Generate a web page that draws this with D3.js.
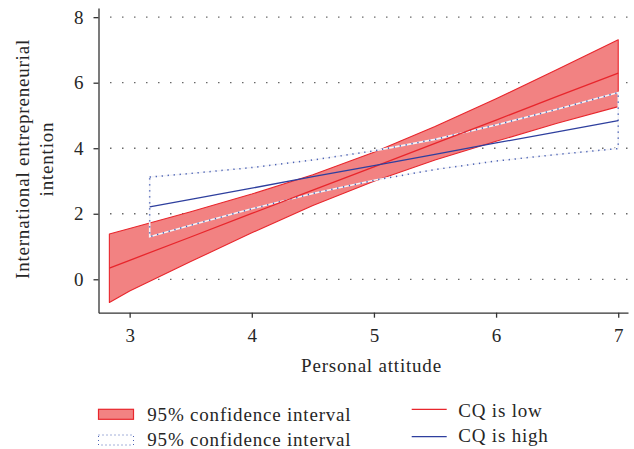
<!DOCTYPE html>
<html>
<head>
<meta charset="utf-8">
<script src="https://cdn.jsdelivr.net/npm/d3@7"></script>
<style>
  body { margin: 0; background: #fff; }
  svg { display: block; }
  text { font-family: "Liberation Serif", "Times New Roman", serif; fill: #262626; }
</style>
</head>
<body>
<svg id="chart" width="634" height="449"></svg>
<script>
// ---- Data ----
const xTicks = [3, 4, 5, 6, 7];
const yTicks = [0, 2, 4, 6, 8];

// CQ is low (red)
const redX     = [2.834, 3.0, 3.5, 4.0, 4.5, 5.0, 5.5, 6.0, 6.5, 7.0];
const redFit   = [0.34, 0.58, 1.29, 2.01, 2.72, 3.43, 4.15, 4.86, 5.58, 6.29];
const redUpper = [1.38, 1.55, 2.06, 2.60, 3.19, 3.88, 4.66, 5.51, 6.40, 7.31];
const redLower = [-0.71, -0.36, 0.54, 1.42, 2.25, 2.99, 3.64, 4.21, 4.76, 5.27];

// CQ is high (blue)
const blueX     = [3.164, 3.5, 4.0, 4.5, 5.0, 5.5, 6.0, 6.5, 7.0];
const blueFit   = [2.21, 2.44, 2.78, 3.13, 3.47, 3.81, 4.16, 4.50, 4.84];
const blueUpper = [3.12, 3.23, 3.41, 3.64, 3.92, 4.27, 4.71, 5.19, 5.70];
const blueLower = [1.30, 1.65, 2.15, 2.62, 3.02, 3.35, 3.61, 3.81, 3.99];

const xTitle = "Personal attitude";
const yTitle = ["International entrepreneurial", "intention"];
const legendCI = ["95% confidence interval", "95% confidence interval"];
const legendLines = ["CQ is low", "CQ is high"];

// ---- Styles ----
const RED = "#e8262c", RED_FILL = "#f28282", BLUE = "#2e3f9e", BLUE_DOT = "#4a62b4";
const FS = 19, LS = 0.8, TXT = "#262626";

const svg = d3.select("#chart");
const x = d3.scaleLinear().domain([2.745, 7.08]).range([98.5, 628]);
const y = d3.scaleLinear().domain([-1.02, 8.28]).range([312.7, 8]);

// grid
svg.append("g").selectAll("line").data(yTicks).join("line")
  .attr("x1", 110.2).attr("x2", 628)
  .attr("y1", d => y(d)).attr("y2", d => y(d))
  .attr("stroke", "#444").attr("stroke-width", 1.3)
  .attr("stroke-dasharray", "1.2,10.8");

const redData = redX.map((v, i) => ({x: v, fit: redFit[i], hi: redUpper[i], lo: redLower[i]}));
const blueData = blueX.map((v, i) => ({x: v, fit: blueFit[i], hi: blueUpper[i], lo: blueLower[i]}));

function bandPath(data) {
  const pts = data.map(d => [x(d.x), y(d.hi)])
    .concat(data.slice().reverse().map(d => [x(d.x), y(d.lo)]));
  return d3.line()(pts) + "Z";
}

// red CI
svg.append("path").attr("d", bandPath(redData))
  .attr("fill", RED_FILL).attr("stroke", RED).attr("stroke-width", 1.1)
  .attr("stroke-linejoin", "round");

// blue CI outline (white underlay + blue dots)
svg.append("path").attr("d", bandPath(blueData))
  .attr("fill", "none").attr("stroke", "#f4f4f8").attr("stroke-width", 1.6);
svg.append("path").attr("d", bandPath(blueData))
  .attr("fill", "none").attr("stroke", BLUE_DOT).attr("stroke-width", 1.5)
  .attr("stroke-dasharray", "1.3,4.7");

const lineGen = d3.line().x(d => x(d.x)).y(d => y(d.fit));
svg.append("path").datum(redData).attr("d", lineGen)
  .attr("fill", "none").attr("stroke", RED).attr("stroke-width", 1.3);
svg.append("path").datum(blueData).attr("d", lineGen)
  .attr("fill", "none").attr("stroke", BLUE).attr("stroke-width", 1.3);

// axes
const gx = svg.append("g").attr("transform", "translate(0,312.7)")
  .call(d3.axisBottom(x).tickValues(xTicks).tickFormat(d3.format("d"))
    .tickSize(5).tickSizeOuter(0).tickPadding(11));
const gy = svg.append("g").attr("transform", "translate(98.5,0)")
  .call(d3.axisLeft(y).tickValues(yTicks).tickFormat(d3.format("d"))
    .tickSize(5).tickSizeOuter(0).tickPadding(10));
[gx, gy].forEach(g => {
  g.select(".domain").attr("stroke", "#333").attr("stroke-width", 1.3);
  g.selectAll(".tick line").attr("stroke", "#333").attr("stroke-width", 1.3);
  g.selectAll("text").attr("font-family", "Liberation Serif").attr("font-size", FS)
    .attr("fill", TXT);
});

// axis titles
svg.append("text").attr("x", 371.5).attr("y", 372).attr("text-anchor", "middle")
  .attr("font-size", FS).style("letter-spacing", LS + "px").text(xTitle);
const yt = svg.append("text").attr("transform", "translate(28.5,159) rotate(-90)")
  .attr("text-anchor", "middle").attr("font-size", FS).style("letter-spacing", LS + "px");
yTitle.forEach((t, i) => yt.append("tspan").attr("x", 0).attr("y", i * 24).text(t));

// legend
const lg = svg.append("g");
lg.append("rect").attr("x", 98.5).attr("y", 409.3).attr("width", 35).attr("height", 10)
  .attr("fill", RED_FILL).attr("stroke", RED).attr("stroke-width", 1.2);
lg.append("rect").attr("x", 98.5).attr("y", 435).attr("width", 35).attr("height", 10)
  .attr("fill", "#fff").attr("stroke", BLUE_DOT).attr("stroke-width", 1)
  .attr("stroke-dasharray", "1,3");
lg.selectAll("text.ci").data(legendCI).join("text").attr("class", "ci")
  .attr("x", 147.3).attr("y", (d, i) => [420.5, 445.5][i])
  .attr("font-size", FS).style("letter-spacing", LS + "px").text(d => d);
const lineColors = [RED, BLUE];
lg.selectAll("line.k").data(legendLines).join("line").attr("class", "k")
  .attr("x1", 411.7).attr("x2", 446.7)
  .attr("y1", (d, i) => [409.3, 436.7][i]).attr("y2", (d, i) => [409.3, 436.7][i])
  .attr("stroke", (d, i) => lineColors[i]).attr("stroke-width", 1.2);
lg.selectAll("text.k").data(legendLines).join("text").attr("class", "k")
  .attr("x", 458.3).attr("y", (d, i) => [416.5, 441.5][i])
  .attr("font-size", FS).style("letter-spacing", LS + "px").text(d => d);
</script>
</body>
</html>
